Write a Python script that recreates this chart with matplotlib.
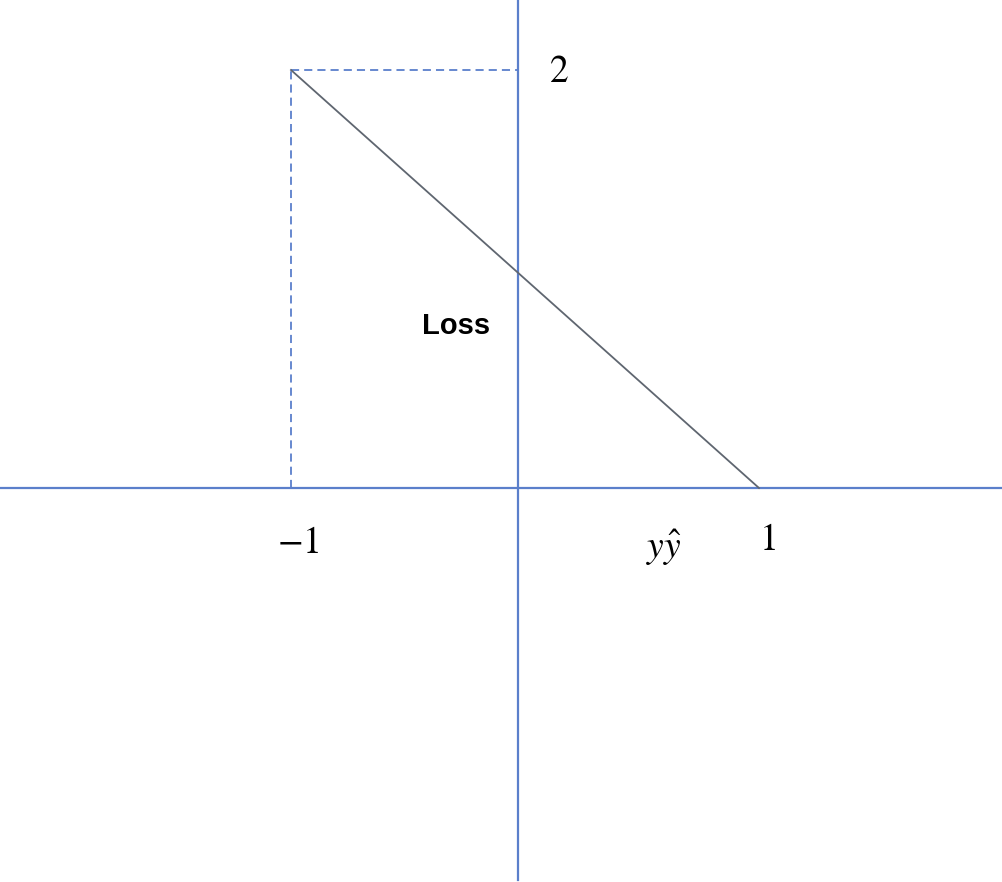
import matplotlib
matplotlib.use("Agg")
import matplotlib.pyplot as plt

# Data: hinge loss  max(0, 1 - y*yhat)
x_vals = [-1, 1]
loss_vals = [2, 0]
tick_x_labels = ["$-1$", "$1$"]
tick_x_pos = [-1, 1]
tick_y_label = "$2$"
tick_y_pos = 2

plt.rcParams['mathtext.fontset'] = 'stix'

fig = plt.figure(figsize=(10.03, 8.82), dpi=100)
ax = fig.add_axes([0, 0, 1, 1])
sx, sy = 234.0, 209.0
x0p, y0p = 525.0, 488.0
ax.set_xlim(-x0p / sx, (1003 - x0p) / sx)
ax.set_ylim(-(882 - y0p) / sy, y0p / sy)
ax.axis('off')

axis_color = '#5B7FCB'
# axes lines (drawn as decorations in axes-fraction coordinates)
ax.axhline(0, color=axis_color, lw=1.6, zorder=1)
ax.plot([518 / 1003, 518 / 1003], [2 / 882, 1.0], color=axis_color, lw=1.6,
        transform=ax.transAxes, zorder=1)

# dashed guides
dash = (0, (4.5, 2.8))
ax.plot([x_vals[0], -0.03], [loss_vals[0], loss_vals[0]], color=axis_color, lw=1.3,
        ls=dash, zorder=2)
ax.plot([x_vals[0], x_vals[0]], [0, loss_vals[0]], color=axis_color, lw=1.3,
        ls=dash, zorder=2)

# loss line
ax.plot(x_vals, loss_vals, color='#5F6670', lw=1.3, zorder=3)

# labels
ax.text(tick_x_pos[0] + 0.03, -0.265, tick_x_labels[0], fontsize=27, ha='center', va='center')
ax.text(tick_x_pos[1] + 0.034, -0.25, tick_x_labels[1], fontsize=27, ha='center', va='center')
ax.text(0.145, tick_y_pos - 0.01, tick_y_label, fontsize=27, ha='center', va='center')
ax.text(0.594, -0.285, r"$y\hat{y}$", fontsize=27, ha='center', va='center')
ax.text(-0.295, 0.775, "Loss", fontsize=21, fontweight='bold', family='Liberation Sans',
        ha='center', va='center')

fig.savefig("out.png", dpi=100)
